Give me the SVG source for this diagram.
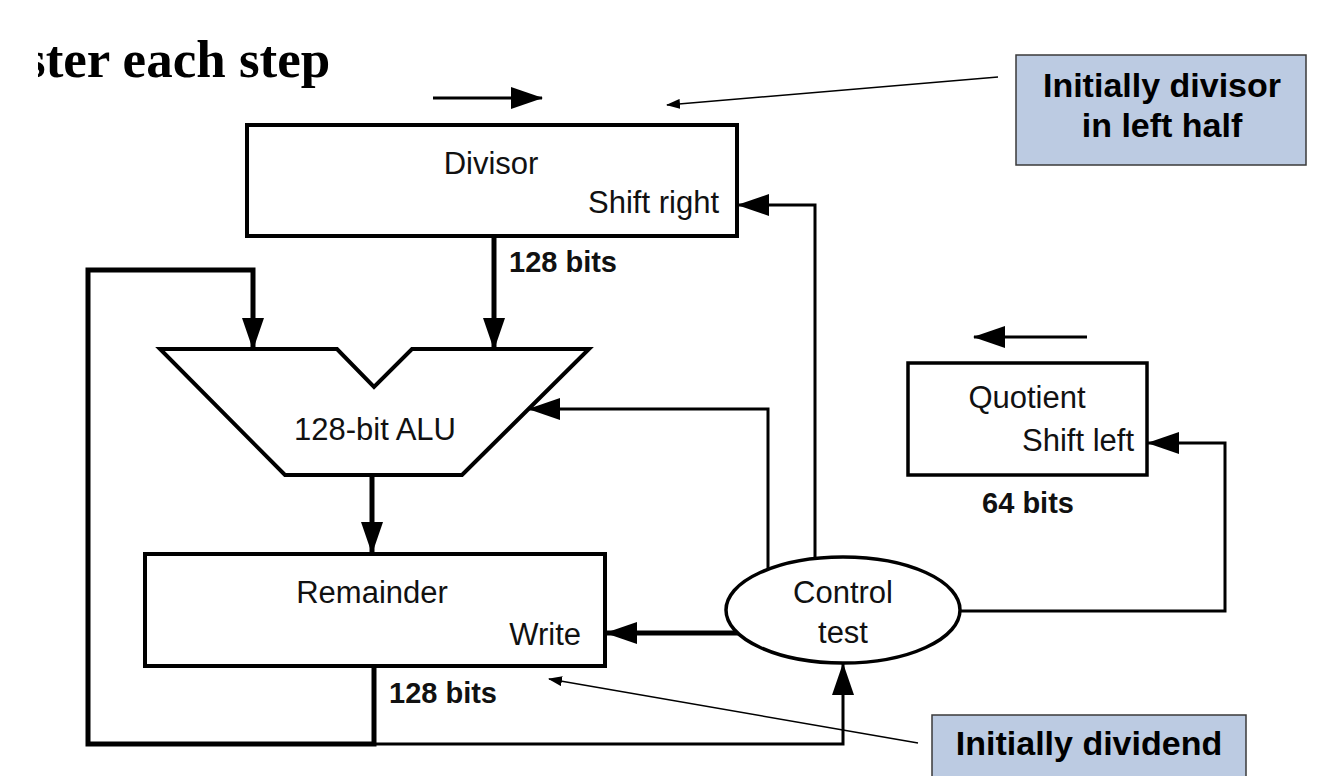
<svg xmlns="http://www.w3.org/2000/svg" width="1336" height="776" viewBox="0 0 1336 776">
<style>
.box{fill:#fff;stroke:#000;stroke-width:4}
.lbl{font-family:"Liberation Sans",Arial,sans-serif;font-size:31px;fill:#111}
.bits{font-family:"Liberation Sans",Arial,sans-serif;font-size:29px;font-weight:bold;fill:#111}
.note{fill:#bccbe2;stroke:#3a3a3a;stroke-width:1.5}
.notet{font-family:"Liberation Sans",Arial,sans-serif;font-size:34px;font-weight:bold;fill:#000;text-anchor:middle}
.thick{fill:none;stroke:#000;stroke-width:5}
.thin{fill:none;stroke:#000;stroke-width:3}
.hair{fill:none;stroke:#000;stroke-width:1.5}
</style>
<defs>
<marker id="ah" markerUnits="userSpaceOnUse" markerWidth="32" markerHeight="22" refX="31" refY="11" orient="auto">
<path d="M0,0 L32,11 L0,22 z" fill="#000"/>
</marker>
<marker id="sh" markerUnits="userSpaceOnUse" markerWidth="14" markerHeight="10" refX="13" refY="5" orient="auto">
<path d="M0,0 L14,5 L0,10 z" fill="#000"/>
</marker>
<clipPath id="tc"><rect x="38" y="0" width="400" height="110"/></clipPath>
</defs>
<rect width="1336" height="776" fill="#fff"/>
<g id="title" clip-path="url(#tc)">
<text x="25" y="77" font-family="Liberation Serif,'Times New Roman',serif" font-size="53" font-weight="bold" fill="#000">ster each step</text>
</g>
<g id="connectors">
<line x1="433" y1="98" x2="542" y2="98" class="thin" marker-end="url(#ah)"/>
<line x1="1087" y1="337" x2="974" y2="337" class="thin" marker-end="url(#ah)"/>
<line x1="494" y1="236" x2="494" y2="349" class="thick" marker-end="url(#ah)"/>
<polyline points="374,667 374,744 88,744 88,270 253,270 253,349" class="thick" marker-end="url(#ah)"/>
<polyline points="374,744 843,744 843,664" class="thin" marker-end="url(#ah)"/>
<line x1="372" y1="475" x2="372" y2="553" class="thick" marker-end="url(#ah)"/>
<line x1="738" y1="633" x2="606" y2="633" class="thick" marker-end="url(#ah)"/>
<polyline points="768,569 768,409 529,409" class="thin" marker-end="url(#ah)"/>
<polyline points="815,559 815,205 738,205" class="thin" marker-end="url(#ah)"/>
<polyline points="960,611 1225,611 1225,443 1148,443" class="thin" marker-end="url(#ah)"/>
<line x1="998" y1="77" x2="667" y2="105" class="hair" marker-end="url(#sh)"/>
<line x1="918" y1="743" x2="549" y2="679" class="hair" marker-end="url(#sh)"/>
</g>
<g id="divisor">
<rect x="247" y="125" width="490" height="111" class="box"/>
<text x="491" y="174" class="lbl" text-anchor="middle">Divisor</text>
<text x="719" y="213" class="lbl" text-anchor="end">Shift right</text>
<text x="509" y="272" class="bits">128 bits</text>
</g>
<g id="alu">
<polygon points="160,349 337,349 374,387 412,349 589,349 462,475 285,475" fill="#fff" stroke="#000" stroke-width="4" stroke-linejoin="miter"/>
<text x="375" y="440" class="lbl" text-anchor="middle">128-bit ALU</text>
</g>
<g id="remainder">
<rect x="145" y="554" width="460" height="112" class="box"/>
<text x="372" y="603" class="lbl" text-anchor="middle">Remainder</text>
<text x="581" y="645" class="lbl" text-anchor="end">Write</text>
<text x="389" y="703" class="bits">128 bits</text>
</g>
<g id="quotient">
<rect x="908" y="363" width="239" height="112" fill="#fff" stroke="#000" stroke-width="3.5"/>
<text x="1027" y="408" class="lbl" text-anchor="middle">Quotient</text>
<text x="1134" y="451" class="lbl" text-anchor="end">Shift left</text>
<text x="1028" y="513" class="bits" text-anchor="middle">64 bits</text>
</g>
<g id="control">
<ellipse cx="843" cy="610" rx="117" ry="53" fill="#fff" stroke="#000" stroke-width="3.5"/>
<text x="843" y="603" class="lbl" text-anchor="middle">Control</text>
<text x="843" y="643" class="lbl" text-anchor="middle">test</text>
</g>
<g id="note-divisor">
<rect x="1016" y="55" width="290" height="110" class="note"/>
<text x="1162" y="97" class="notet">Initially divisor</text>
<text x="1162" y="137" class="notet">in left half</text>
</g>
<g id="note-dividend">
<rect x="932" y="715" width="314" height="70" class="note"/>
<text x="1089" y="755" class="notet">Initially dividend</text>
</g>
</svg>
